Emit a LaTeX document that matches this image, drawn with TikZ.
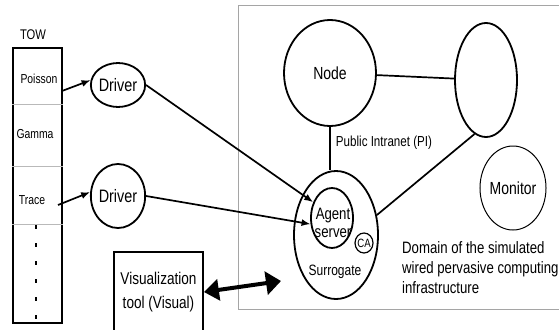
\documentclass[tikz,border=0pt]{standalone}
\usepackage{fontspec}
\setmainfont[FakeStretch=0.8]{Liberation Sans}
\usepackage{tikz}
\definecolor{framegray}{RGB}{165,165,165}
\definecolor{rulegray}{RGB}{185,185,185}
\usetikzlibrary{shapes.geometric,arrows.meta,calc}

\begin{document}
\begin{tikzpicture}[x=1pt,y=-1pt,
    blob/.style={ellipse,draw,line width=1.8pt,inner sep=0pt},
    small/.style={inner sep=0pt,font=\fontsize{13}{14}\selectfont},
    lbl/.style={inner sep=0pt,font=\fontsize{14.5}{20}\selectfont},
    big/.style={inner sep=0pt,font=\fontsize{17.5}{18}\selectfont},
    link/.style={line width=1.7pt},
    feed/.style={line width=1.7pt,-{Latex[length=9pt,width=7pt]}}]
    \useasboundingbox (0,0) rectangle (559,329);

    % Domain frame, it runs off the right edge
    \draw[framegray, line width=0.9pt] (566,5) -- (238,5) -- (238,309) -- (566,309);

    % TOW column
    \node[draw, line width=1.8pt, minimum width=49pt, minimum height=275pt, inner sep=0pt] (tow) at (37.5,185.5) {};
    \node[small, font=\fontsize{14}{14}\selectfont] (towtitle) at (33,35) {TOW};
    \foreach \y in {104,166,224} {
        \draw[rulegray, line width=0.8pt] (tow.west |- 0,\y) -- (tow.east |- 0,\y);
    }
    \node[small] (poisson) at (39,79) {Poisson};
    \node[small] (gamma) at (35,134) {Gamma};
    \node[small] (trace) at (32,200) {Trace};
    \draw[line width=1.5pt, dash pattern=on 4pt off 14pt] (36,225) -- (36,323);

    % Drivers
    \node[blob, big, font=\fontsize{18}{18}\selectfont, minimum width=50pt, minimum height=44pt] (drv1) at (118,85) {Driver};
    \node[blob, big, font=\fontsize{18}{18}\selectfont, minimum width=50pt, minimum height=64pt] (drv2) at (118,196) {Driver};
    \coordinate (pout) at (62,91);
    \coordinate (tout) at (58,205);
    \draw[feed] (pout) -- (drv1.170);
    \draw[feed] (tout) -- (drv2.172);

    % Public intranet
    \node[blob, big, minimum width=92pt, minimum height=106pt] (node) at (330,73) {Node};
    \node[blob, minimum width=62pt, minimum height=114pt] (peer) at (486,80) {};
    \node[lbl] (pi) at (384,143) {Public Intranet (PI)};

    % Surrogate with agent server
    \node[blob, minimum width=84pt, minimum height=128pt] (surr) at (336,235) {};
    \node[blob, minimum width=42pt, minimum height=60pt] (agent) at (332,218) {};
    \node[big, font=\fontsize{16.5}{18}\selectfont, align=center] (agenttxt) at (333,223) {Agent\\server};
    \node[blob, line width=1.2pt, minimum width=18pt, minimum height=20pt] (ca) at (364,243) {};
    \node[inner sep=0pt, font=\fontsize{12}{12}\selectfont] (catxt) at (364,243) {CA};
    \node[lbl, font=\fontsize{15}{15}\selectfont] (surrtxt) at (335,272) {Surrogate};

    \draw[link] (node) -- (peer);
    \draw[link] (node.south) -- (node.south |- surr.north);
    \draw[link] (peer.258) -- (surr.26);
    \draw[feed] (drv1.east) -- (agent.140);
    \draw[feed] (drv2.east) -- (agent.196);

    % Monitor and domain caption
    \node[ellipse, draw, line width=1pt, inner sep=0pt, big, minimum width=66pt, minimum height=84pt] (monitor) at (513,188) {Monitor};
    \node[lbl, font=\fontsize{16.5}{20}\selectfont, anchor=west, align=left] (domain) at (402,268) {Domain of the simulated\\wired pervasive computing\\infrastructure};

    % Visualization tool
    \node[draw, line width=1.8pt, minimum width=89pt, minimum height=80pt, inner sep=0pt, align=center,
          font=\fontsize{17}{24}\selectfont] (visual) at (158.5,292) {Visualization\\tool (Visual)};
    \coordinate (vend) at (281,281);
    \draw[line width=4pt, {Triangle[length=15pt,width=21pt]}-{Triangle[length=15pt,width=23pt]}] (visual.east) -- (vend);
\end{tikzpicture}
\end{document}
